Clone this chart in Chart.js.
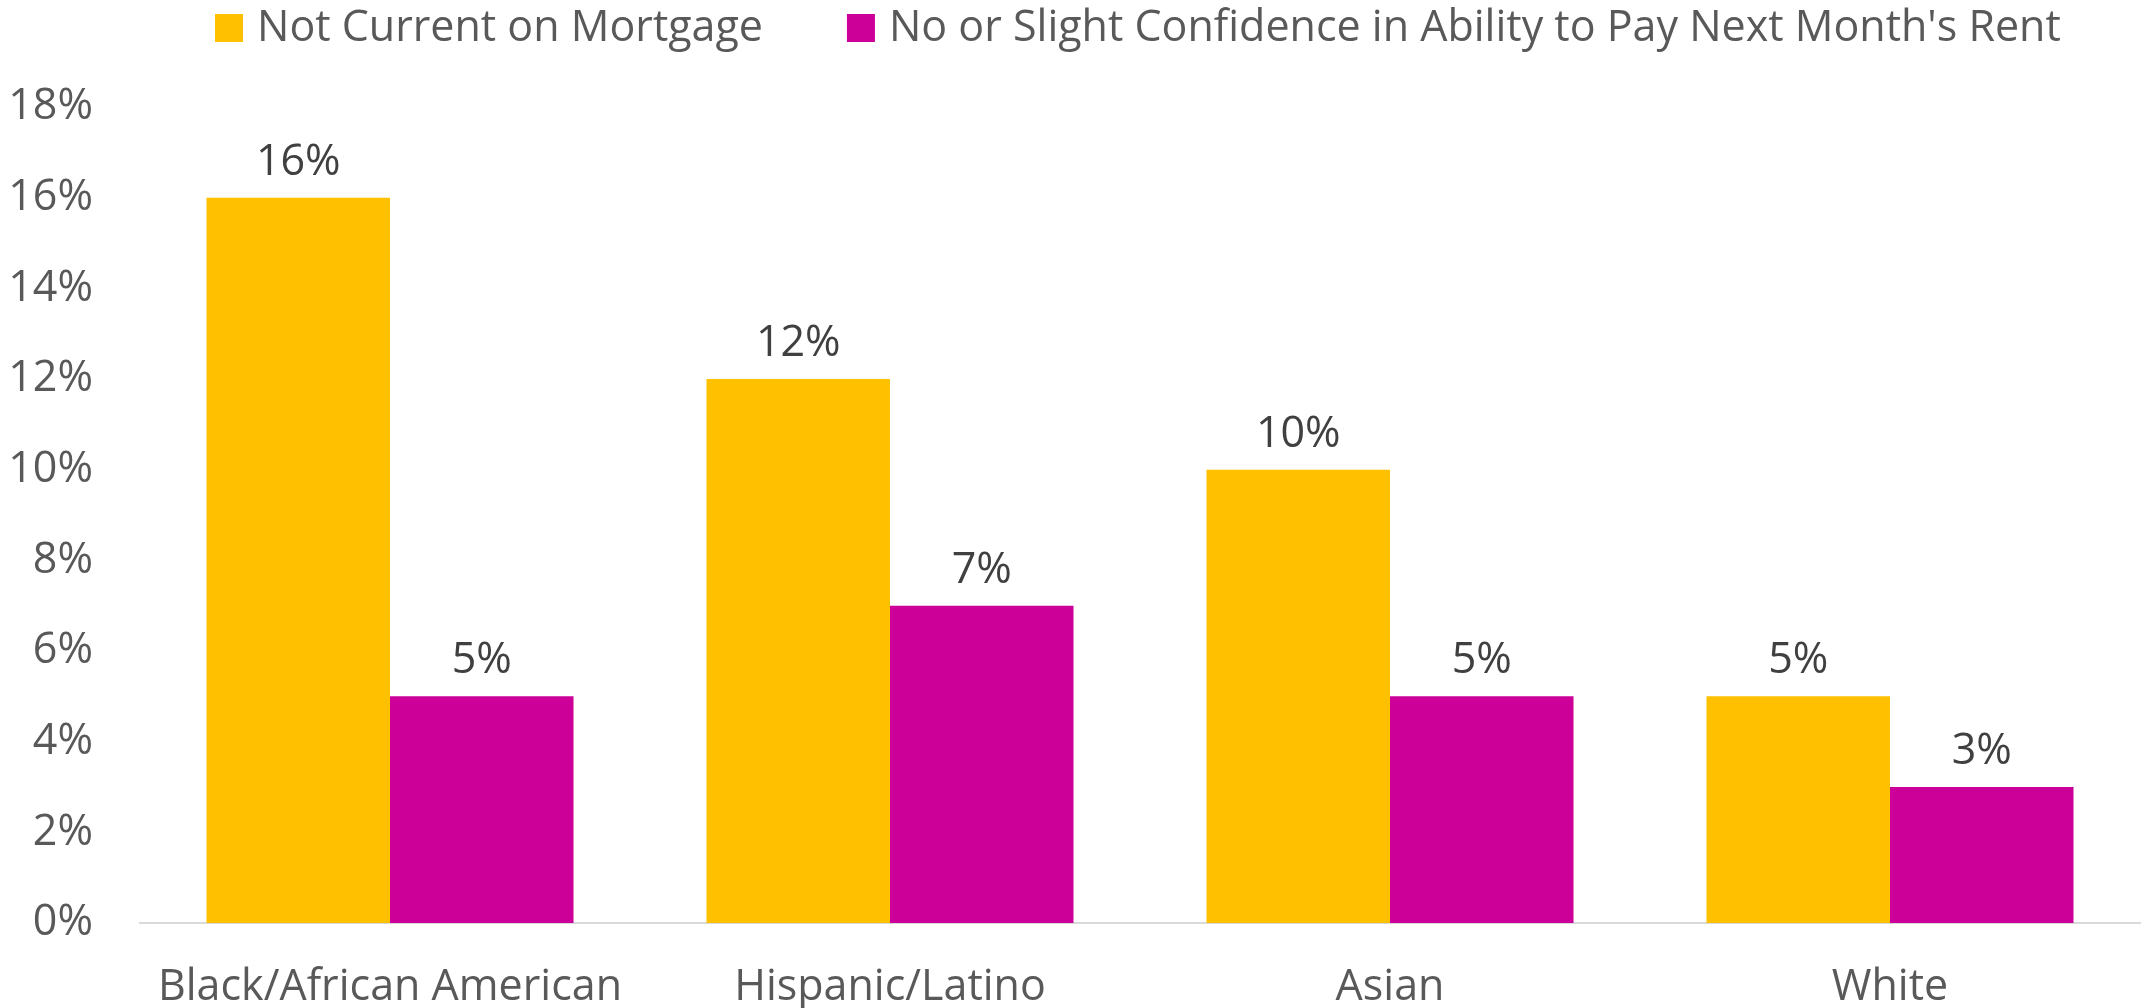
<!DOCTYPE html>
<html>
<head>
<meta charset="utf-8">
<script src="https://cdn.jsdelivr.net/npm/chart.js@4"></script>
<style>
  html, body { margin: 0; padding: 0; background: #ffffff; }
  #wrap { width: 2144px; height: 1008px; }
</style>
</head>
<body>
<div id="wrap"><canvas id="c" width="2144" height="1008"></canvas></div>
<script>
const categories = ["Black/African American", "Hispanic/Latino", "Asian", "White"];
const seriesNames = ["Not Current on Mortgage", "No or Slight Confidence in Ability to Pay Next Month's Rent"];
const notCurrentOnMortgage = [16, 12, 10, 5];
const lowConfidenceRent = [5, 7, 5, 3];
const yTicks = [0, 2, 4, 6, 8, 10, 12, 14, 16, 18];

const FONT = "'Open Sans', 'Noto Sans', sans-serif";
const FSIZE = 43;
const COLORS = ["#FFC000", "#CC0099"];

const dataLabelPlugin = {
  id: 'dataLabels',
  afterDatasetsDraw(chart) {
    const ctx = chart.ctx;
    ctx.save();
    ctx.font = FSIZE + "px " + FONT;
    ctx.fillStyle = "#404040";
    ctx.textAlign = "center";
    ctx.textBaseline = "alphabetic";
    chart.data.datasets.forEach((ds, i) => {
      const meta = chart.getDatasetMeta(i);
      meta.data.forEach((bar, j) => {
        ctx.fillText(ds.data[j] + "%", bar.x, bar.y - 23);
      });
    });
    ctx.restore();
  }
};

const legendPlugin = {
  id: 'customLegend',
  afterDraw(chart) {
    const ctx = chart.ctx;
    ctx.save();
    ctx.font = FSIZE + "px " + FONT;
    ctx.textBaseline = "alphabetic";
    ctx.textAlign = "left";
    let x = 215;
    chart.data.datasets.forEach((ds) => {
      ctx.fillStyle = ds.backgroundColor;
      ctx.fillRect(x, 14, 28, 28);
      ctx.fillStyle = "#595959";
      ctx.fillText(ds.label, x + 42, 41);
      x += 42 + ctx.measureText(ds.label).width + 84;
    });
    ctx.restore();
  }
};

new Chart(document.getElementById('c'), {
  type: 'bar',
  data: {
    labels: categories,
    datasets: [
      { label: seriesNames[0], data: notCurrentOnMortgage, backgroundColor: COLORS[0], borderWidth: 0 },
      { label: seriesNames[1], data: lowConfidenceRent, backgroundColor: COLORS[1], borderWidth: 0 }
    ]
  },
  options: {
    responsive: false,
    animation: false,
    devicePixelRatio: 1,
    layout: { padding: { top: 107, right: 4, bottom: 0, left: 0 } },
    datasets: { bar: { categoryPercentage: 0.734, barPercentage: 1.0 } },
    plugins: {
      legend: { display: false },
      tooltip: { enabled: false }
    },
    scales: {
      x: {
        grid: { display: false, drawTicks: false },
        border: { display: true, color: "#D9D9D9", width: 2 },
        ticks: { color: "#595959", font: { family: FONT, size: FSIZE }, padding: 39, maxRotation: 0 },
        afterFit(scale) { scale.height = 85; }
      },
      y: {
        min: 0, max: 18,
        afterBuildTicks(scale) { scale.ticks = yTicks.map(v => ({ value: v })); },
        grid: { display: false, drawTicks: false },
        border: { display: false },
        ticks: {
          color: "#595959", font: { family: FONT, size: FSIZE }, padding: 47,
          callback: (v) => v + "%"
        },
        afterFit(scale) { scale.width = 140; }
      }
    }
  },
  plugins: [dataLabelPlugin, legendPlugin]
});
</script>
</body>
</html>
